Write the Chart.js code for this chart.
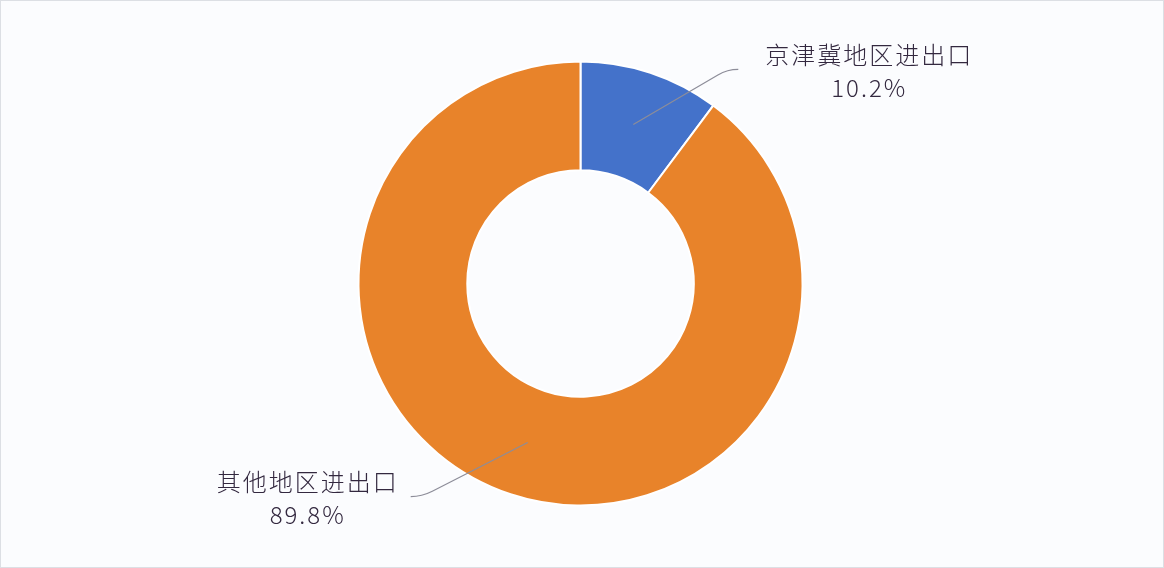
<!DOCTYPE html>
<html>
<head>
<meta charset="utf-8">
<script src="https://cdn.jsdelivr.net/npm/chart.js@4.4.0/dist/chart.umd.min.js"></script>
<style>
  html, body { margin: 0; padding: 0; background: #ffffff; }
  #wrap { width: 1162px; height: 566px; border: 1px solid #dcdfe4; background: #fbfcfe; }
  canvas { display: block; }
</style>
</head>
<body>
<div id="wrap"><canvas id="c" width="1162" height="566"></canvas></div>
<script>
const categories = ['京津冀地区进出口', '其他地区进出口'];
const shares = [10.2, 89.8];
const sliceColors = ['#4472CA', '#E8832A'];

// leader line / label placement, per slice (relative offsets)
const labelLayout = [
  { elbowDx: 94, elbowDy: -55, tailDx: 11, textDx: 130 },
  { elbowDx: -106, elbowDy: 54, tailDx: -11, textDx: -104 }
];

const leaderLabels = {
  id: 'leaderLabels',
  afterDatasetsDraw(chart) {
    const ctx = chart.ctx;
    const meta = chart.getDatasetMeta(0);
    meta.data.forEach((arc, i) => {
      const p = arc.getProps(['x', 'y', 'startAngle', 'endAngle', 'innerRadius', 'outerRadius'], true);
      const mid = (p.startAngle + p.endAngle) / 2;
      const r = (p.innerRadius + p.outerRadius) / 2;
      const ax = p.x + r * Math.cos(mid);
      const ay = p.y + r * Math.sin(mid);
      const L = labelLayout[i];
      const ex = ax + L.elbowDx, ey = ay + L.elbowDy;
      const tx = ex + L.tailDx, ty = ey;
      // leader line
      ctx.save();
      ctx.strokeStyle = '#8d8d99';
      ctx.lineWidth = 1.2;
      ctx.beginPath();
      const t = 0.9;
      ctx.moveTo(ax, ay);
      ctx.lineTo(ax + (ex - ax) * t, ay + (ey - ay) * t);
      ctx.quadraticCurveTo(ex, ey, tx, ty);
      ctx.stroke();
      ctx.restore();
      // label text
      ctx.save();
      ctx.fillStyle = '#33283f';
      ctx.textAlign = 'center';
      ctx.textBaseline = 'middle';
      ctx.font = '300 24px "Noto Sans CJK SC", "Noto Sans", sans-serif';
      try { ctx.letterSpacing = '2px'; } catch (e) {}
      const cx = tx + L.textDx;
      ctx.fillText(categories[i], cx + 1, ty - 15);
      ctx.fillText(shares[i].toFixed(1) + '%', cx + 1, ty + 18);
      ctx.restore();
    });
  }
};

new Chart(document.getElementById('c'), {
  type: 'doughnut',
  data: {
    labels: categories,
    datasets: [{
      data: shares,
      backgroundColor: sliceColors,
      borderColor: '#ffffff',
      borderWidth: 2
    }]
  },
  options: {
    responsive: false,
    animation: false,
    cutout: '51%',
    layout: { padding: { top: 59.5, bottom: 60.5, left: 0, right: 3 } },
    plugins: {
      legend: { display: false },
      tooltip: { enabled: false }
    }
  },
  plugins: [leaderLabels]
});
</script>
</body>
</html>
